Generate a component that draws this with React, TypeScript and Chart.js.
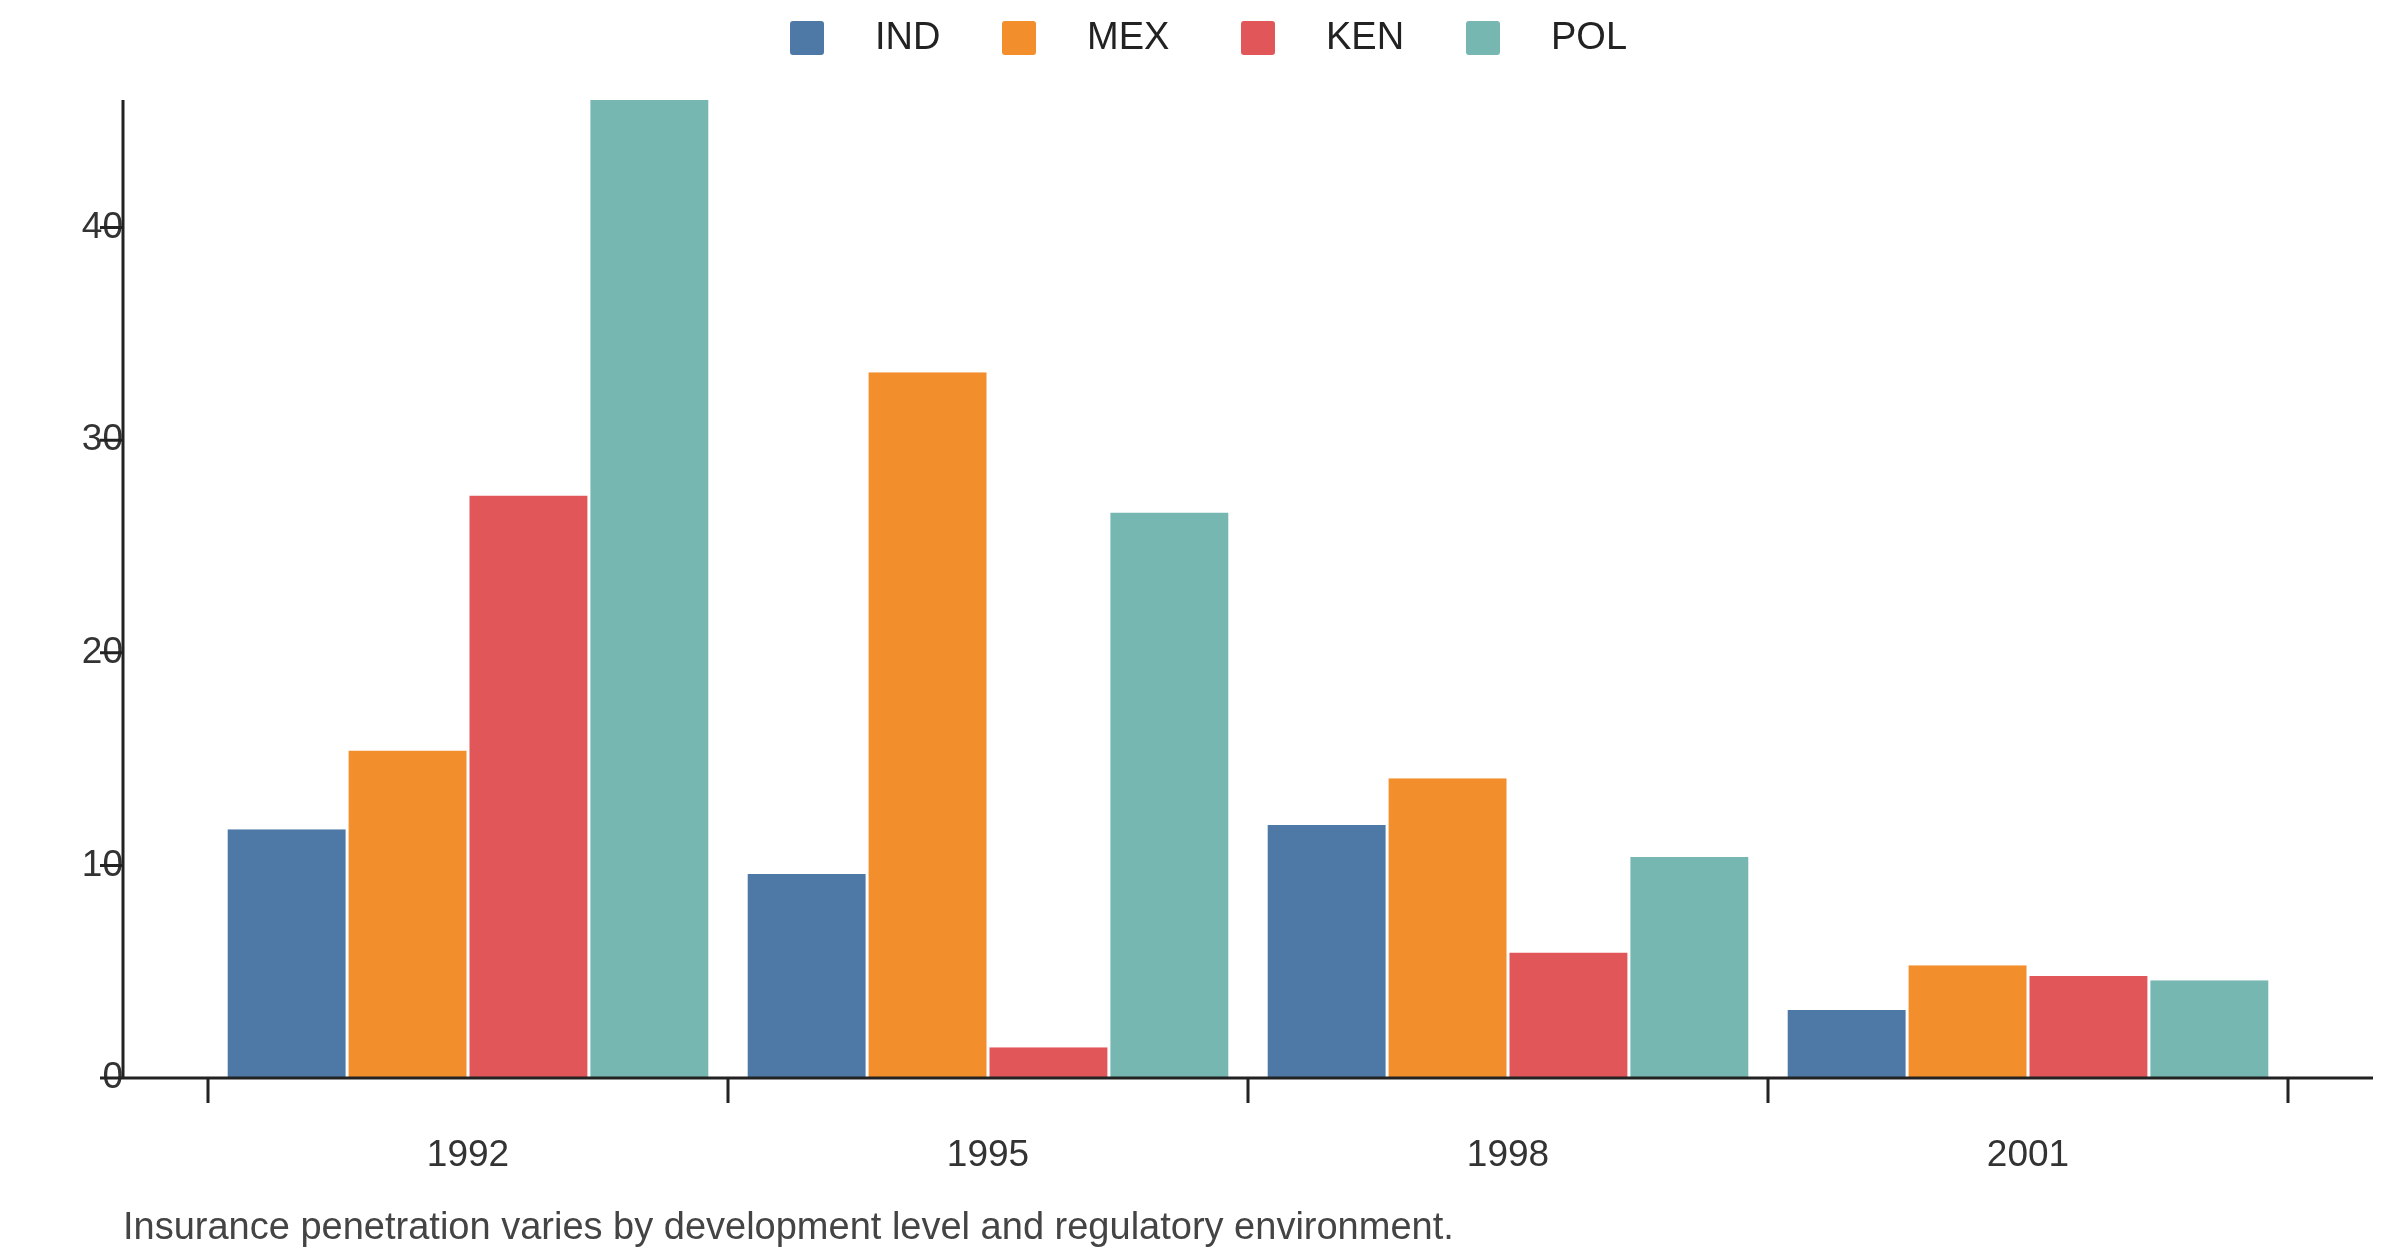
import React, { useEffect, useRef } from "react";
import { Chart, registerables } from "chart.js";
Chart.register(...registerables);

const categories = ["1992", "1995", "1998", "2001"];
const seriesNames = ["IND", "MEX", "KEN", "POL"];
const ind = [11.7, 9.6, 11.9, 3.2];
const mex = [15.4, 33.2, 14.1, 5.3];
const ken = [27.4, 1.45, 5.9, 4.8];
const pol = [46, 26.6, 10.4, 4.6];
const colors = ["#4e79a7", "#f28e2b", "#e15759", "#76b7b2"];
const yTicks = [0, 10, 20, 30, 40];
const caption = "Insurance penetration varies by development level and regulatory environment.";

const FONT = "Liberation Sans, Arial, sans-serif";

export default function App() {
  const ref = useRef<HTMLCanvasElement>(null);
  useEffect(() => {
    const values = [ind, mex, ken, pol];
    const deco = {
      id: "deco",
      afterDraw(chart: any) {
        const ctx = chart.ctx;
        const a = chart.chartArea;
        const x = chart.scales.x;
        const y = chart.scales.y;
        const axX = a.left - 85;
        ctx.save();
        ctx.strokeStyle = "#222";
        ctx.lineWidth = 3;
        ctx.beginPath();
        ctx.moveTo(axX, a.top);
        ctx.lineTo(axX, a.bottom);
        ctx.moveTo(axX - 23, a.bottom);
        ctx.lineTo(a.right + 85, a.bottom);
        for (const t of yTicks) {
          const py = y.getPixelForValue(t);
          ctx.moveTo(axX - 23, py);
          ctx.lineTo(axX, py);
        }
        const step = (a.right - a.left) / categories.length;
        for (let i = 0; i <= categories.length; i++) {
          const px = a.left + i * step;
          ctx.moveTo(px, a.bottom);
          ctx.lineTo(px, a.bottom + 25);
        }
        ctx.stroke();
        // legend
        ctx.font = `38px ${FONT}`;
        ctx.textBaseline = "middle";
        ctx.fillStyle = "#222";
        const lx = [790, 1002, 1241, 1466];
        seriesNames.forEach((n, i) => {
          ctx.fillStyle = colors[i];
          ctx.beginPath();
          (ctx as any).roundRect(lx[i], 21, 34, 34, 3);
          ctx.fill();
          ctx.fillStyle = "#222";
          ctx.fillText(n, lx[i] + 85, 39);
        });
        ctx.font = `38px ${FONT}`;
        ctx.fillStyle = "#444";
        ctx.fillText(caption, 123, 1229);
        ctx.restore();
      },
    };
    const chart = new Chart(ref.current!, {
      type: "bar",
      data: {
        labels: categories,
        datasets: seriesNames.map((n, i) => ({
          label: n,
          data: values[i],
          backgroundColor: colors[i],
          borderColor: "#ffffff",
          borderWidth: { left: 1.5, right: 1.5, top: 0, bottom: 0 } as any,
          borderSkipped: false as any,
          barPercentage: 1,
          categoryPercentage: 0.93,
        })),
      },
      options: {
        responsive: false,
        animation: false,
        devicePixelRatio: 1,
        layout: { padding: { top: 100, right: 112, left: 0, bottom: 0 } },
        plugins: { legend: { display: false }, tooltip: { enabled: false } },
        scales: {
          x: {
            grid: { display: false },
            border: { display: false },
            ticks: { padding: 48, color: "#333", font: { size: 37, family: FONT } },
            afterFit(s: any) { s.height = 178; },
          },
          y: {
            min: 0,
            max: 46,
            grid: { display: false },
            border: { display: false },
            afterBuildTicks(s: any) { s.ticks = yTicks.map((v) => ({ value: v })); },
            ticks: { padding: 77, color: "#333", font: { size: 37, family: FONT } },
            afterFit(s: any) { s.width = 208; },
          },
        },
      },
      plugins: [deco],
    });
    return () => chart.destroy();
  }, []);
  return (
    <canvas
      ref={ref}
      width={2400}
      height={1256}
      style={{ position: "absolute", left: 0, top: 0, width: 2400, height: 1256, background: "#fff" }}
    />
  );
}
